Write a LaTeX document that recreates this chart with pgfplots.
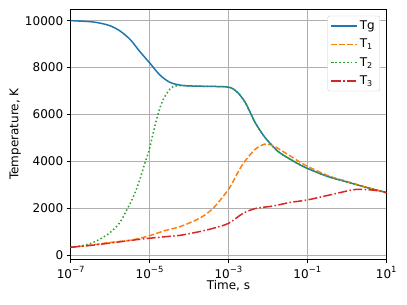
\documentclass[border=0pt]{standalone}
\usepackage{pgfplots}
\pgfplotsset{compat=1.18}
\usepackage{fontspec}
\setmainfont{DejaVu Sans}
\definecolor{tabblue}{HTML}{1F77B4}
\definecolor{taborange}{HTML}{FF7F0E}
\definecolor{tabgreen}{HTML}{2CA02C}
\definecolor{tabred}{HTML}{D62728}
\newcommand{\tp}[1]{10\raisebox{0.85ex}{\fontsize{8.5}{9}\selectfont #1}}
\begin{document}
\begin{tikzpicture}[font=\fontsize{12}{14}\selectfont]
\begin{axis}[
  scale only axis,
  width=315.6pt, height=249.7pt,
  xmode=log,
  xmin=1e-7, xmax=10,
  ymin=-170, ymax=10484,
  xtick={1e-7,1e-5,1e-3,1e-1,1e1},
  xticklabels={\tp{−7},\tp{−5},\tp{−3},\tp{−1},\tp{1}},
  minor xtick={},
  ytick={0,2000,4000,6000,8000,10000},
  scaled y ticks=false,
  /pgf/number format/1000 sep={},
  /pgf/number format/assume math mode=true,
  xtick pos=bottom, ytick pos=left,
  tick align=outside,
  major tick length=4pt,
  tick style={black, line width=0.8pt},
  axis line style={line width=0.8pt},
  grid=major,
  major grid style={color=black!31, line width=0.8pt},
  xlabel={Time, s},
  ylabel={Temperature, K},
  xlabel style={at={(axis description cs:0.5,-0.108)}, anchor=center},
  ylabel style={at={(axis description cs:-0.176,0.5)}, anchor=center},
  legend style={at={(axis description cs:0.98,0.974)}, anchor=north east,
    draw=black!20, rounded corners=2pt, fill=white,
    row sep=4pt, inner sep=3pt},
  legend cell align=left,
  legend image code/.code={\draw[#1] plot coordinates {(0cm,0cm) (0.9cm,0cm)};},
]
\addplot[draw=tabblue, line width=1.5pt, smooth] coordinates {
(1e-7,10000) (3.16e-7,9955) (5.5e-7,9895) (1e-6,9780) (1.78e-6,9560) (3.24e-6,9190)
(5.6e-6,8690) (1e-5,8200) (1.8e-5,7690) (3.24e-5,7370) (5.9e-5,7250) (1e-4,7215)
(3.16e-4,7195) (7.9e-4,7180) (1.2e-3,7125) (1.74e-3,6920) (2.57e-3,6550) (3.47e-3,6120)
(4.57e-3,5700) (6.17e-3,5340) (8.3e-3,5030) (1.1e-2,4790) (1.82e-2,4410) (3.9e-2,4060)
(8.5e-2,3750) (0.316,3360) (1,3120) (3.16,2880) (10,2670)};
\addlegendentry{Tg}
\addplot[draw=taborange, line width=1.5pt, smooth, dash pattern=on 5.5pt off 2.4pt] coordinates {
(1e-7,330) (3.16e-7,420) (9e-7,525) (3.5e-6,640) (9.3e-6,810) (2.45e-5,1040)
(5.9e-5,1210) (1.86e-4,1570) (4.1e-4,2000) (9.8e-4,2780) (1.45e-3,3280) (1.9e-3,3650)
(2.57e-3,3990) (4.57e-3,4490) (7.1e-3,4690) (1e-2,4740) (1.58e-2,4600) (3.9e-2,4200)
(8.5e-2,3850) (0.316,3400) (1,3140) (3.16,2890) (10,2660)};
\addlegendentry{T\textsubscript{1}}
\addplot[draw=tabgreen, line width=1.5pt, smooth, dash pattern=on 1.5pt off 2.4pt] coordinates {
(1e-7,340) (2e-7,400) (4e-7,560) (9e-7,900) (1.7e-6,1350) (2.63e-6,1920) (3.9e-6,2490)
(5.6e-6,3200) (7.6e-6,3920) (9.8e-6,4490) (1.23e-5,5200) (1.66e-5,6050) (2.19e-5,6620)
(3.16e-5,7050) (4e-5,7190) (5.9e-5,7230) (1e-4,7215)
(3.16e-4,7195) (7.9e-4,7180) (1.2e-3,7125) (1.74e-3,6920) (2.57e-3,6550) (3.47e-3,6120)
(4.57e-3,5700) (6.17e-3,5340) (8.3e-3,5030) (1.1e-2,4790) (1.82e-2,4410) (3.9e-2,4060)
(8.5e-2,3750) (0.316,3360) (1,3120) (3.16,2880) (10,2670)};
\addlegendentry{T\textsubscript{2}}
\addplot[draw=tabred, line width=1.5pt, smooth, dash pattern=on 9pt off 2.4pt on 1.5pt off 2.4pt] coordinates {
(1e-7,330) (3.16e-7,410) (9e-7,500) (3.16e-6,620) (9.3e-6,710) (2.45e-5,780)
(5.9e-5,840) (1.86e-4,1000) (4.1e-4,1140) (1e-3,1350) (2.35e-3,1780) (5e-3,1990)
(1.35e-2,2090) (3.55e-2,2240) (0.1,2350) (0.363,2560) (1.41,2780) (2.57,2800)
(5.6,2750) (10,2660)};
\addlegendentry{T\textsubscript{3}}
\end{axis}
\path (-70.7pt,-46pt) rectangle (336.3pt,259pt);
\end{tikzpicture}
\end{document}
